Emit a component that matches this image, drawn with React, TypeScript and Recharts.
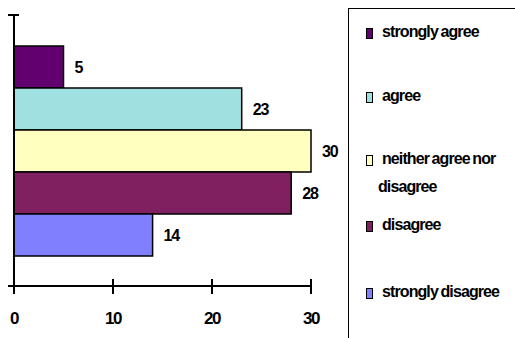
import { BarChart, Bar, XAxis, YAxis, LabelList } from "recharts";

const categories = ["strongly agree", "agree", "neither agree nor disagree", "disagree", "strongly disagree"];
const keys = ["sa", "a", "n", "d", "sd"];
const values = [5, 23, 30, 28, 14];
const colors = ["#62006f", "#a0e0e0", "#ffffc0", "#802060", "#8080ff"];
const xTicks = [0, 10, 20, 30];

// legend text, one entry per line, with vertical centre positions
const legendLines = [["strongly agree"], ["agree"], ["neither agree nor", "disagree"], ["disagree"], ["strongly disagree"]];
const legendTops = [33, 97, 160, 226, 293];

const font = "'Liberation Sans', Arial, sans-serif";

const row: Record<string, string | number> = { name: "responses" };
keys.forEach((k, i) => {
  row[k] = values[i];
});
const data = [row];

function XTick(props: any) {
  const { x, y, payload } = props;
  return (
    <g>
      <line x1={x} x2={x} y1={y - 7} y2={y + 8} stroke="#000" strokeWidth={2} />
      {payload.value === 0 && <line x1={x - 6} x2={x} y1={y} y2={y} stroke="#000" strokeWidth={2} />}
      <text
        x={x}
        y={y + 38}
        textAnchor="middle"
        fontFamily={font}
        fontWeight="bold"
        fontSize={17}
        letterSpacing={-1.5}
        fill="#000"
      >
        {payload.value}
      </text>
    </g>
  );
}

export default function App() {
  return (
    <div style={{ position: "absolute", left: 0, top: 0, width: 515, height: 338, background: "#fff", overflow: "hidden" }}>
      <BarChart
        width={345}
        height={338}
        data={data}
        layout="vertical"
        margin={{ top: 15, right: 34, bottom: 22, left: 10 }}
        barGap={0}
        barCategoryGap={31}
      >
        <XAxis
          type="number"
          domain={[0, 30]}
          ticks={xTicks}
          height={30}
          tickSize={0}
          tickMargin={0}
          tickLine={false}
          tick={<XTick />}
          axisLine={{ stroke: "#000", strokeWidth: 2 }}
        />
        <YAxis type="category" dataKey="name" width={4} tick={false} tickLine={false} axisLine={{ stroke: "#000", strokeWidth: 2 }} />
        {keys.map((k, i) => (
          <Bar key={k} dataKey={k} name={categories[i]} fill={colors[i]} stroke="#000" strokeWidth={1.5} isAnimationActive={false}>
            <LabelList
              dataKey={k}
              position="right"
              offset={11}
              fill="#000"
              fontFamily={font}
              fontWeight="bold"
              fontSize={16}
              letterSpacing={-1.2}
            />
          </Bar>
        ))}
      </BarChart>
      {/* top tick of the category axis */}
      <svg style={{ position: "absolute", left: 0, top: 0, zIndex: 5 }} width={30} height={30}>
        <line x1={8} x2={19} y1={15} y2={15} stroke="#000" strokeWidth={2} />
      </svg>
      <div
        style={{
          position: "absolute",
          left: 348,
          top: 8,
          width: 180,
          height: 340,
          border: "1.5px solid #000",
          boxSizing: "border-box",
        }}
      />
      {categories.map((c, i) => (
        <div key={c} style={{ position: "absolute", left: 366, top: legendTops[i] - 5 }}>
          <div
            style={{
              position: "absolute",
              left: 0,
              top: 0,
              width: 5,
              height: 9,
              background: colors[i],
              border: "1px solid #000",
            }}
          />
          {legendLines[i].map((t, j) => (
            <div
              key={t}
              style={{
                position: "absolute",
                left: j === 0 ? 16 : 12,
                top: j * 28 - 6,
                whiteSpace: "nowrap",
                fontFamily: font,
                fontWeight: "bold",
                fontSize: 16,
                lineHeight: "20px",
                letterSpacing: -0.9,
                wordSpacing: -1,
                color: "#000",
              }}
            >
              {t}
            </div>
          ))}
        </div>
      ))}
    </div>
  );
}
